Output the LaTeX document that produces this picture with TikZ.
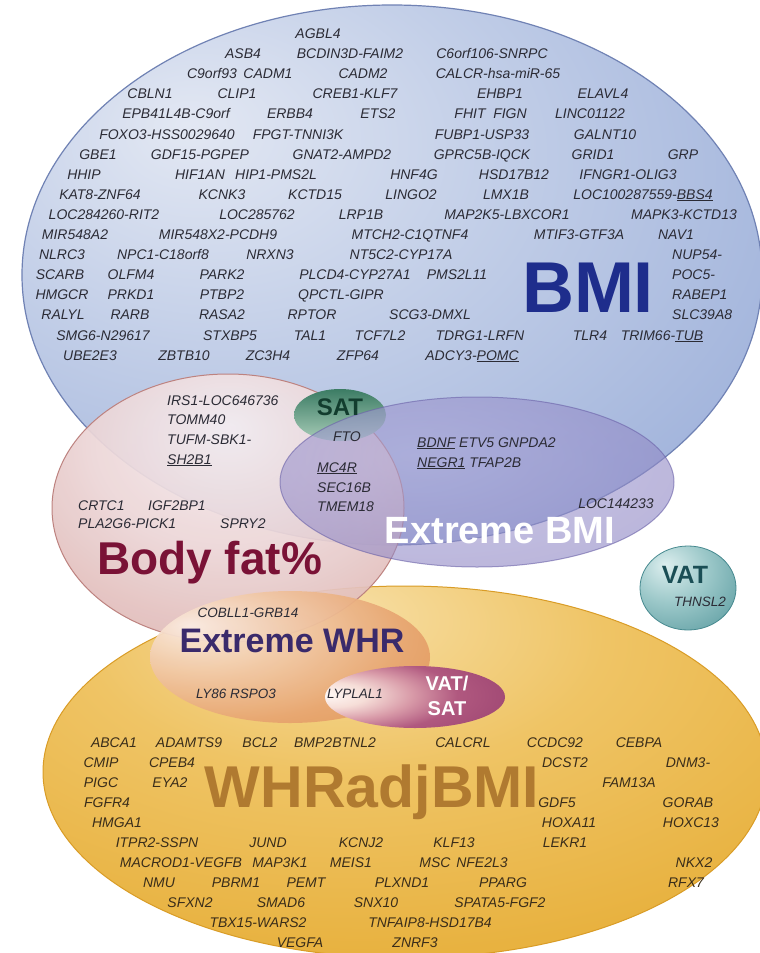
\documentclass[tikz,border=0pt]{standalone}
\usepackage{fontspec}
\setmainfont{Liberation Sans}

\definecolor{bmiA}{HTML}{E3E8F3}\definecolor{bmiB}{HTML}{C3CFE8}\definecolor{bmiC}{HTML}{A3B5DC}
\definecolor{bmiD}{HTML}{8EA3D2}\definecolor{bmiE}{HTML}{7890C6}\definecolor{bmirim}{HTML}{7082B4}
\definecolor{bfA}{HTML}{F5EEF1}\definecolor{bfB}{HTML}{ECD5D6}\definecolor{bfC}{HTML}{DDB3AF}
\definecolor{bfD}{HTML}{CE9A95}\definecolor{bfE}{HTML}{BD827F}
\definecolor{ebA}{HTML}{A8A2D6}\definecolor{ebB}{HTML}{9189C6}\definecolor{ebC}{HTML}{7C73B8}\definecolor{ebD}{HTML}{6A61A8}
\definecolor{goA}{HTML}{F7DFA6}\definecolor{goB}{HTML}{EFC465}\definecolor{goC}{HTML}{E8B240}
\definecolor{goD}{HTML}{E3A935}\definecolor{goE}{HTML}{D99C26}
\definecolor{whA}{HTML}{FBEDE4}\definecolor{whB}{HTML}{F1C9A8}\definecolor{whC}{HTML}{E8A672}
\definecolor{whD}{HTML}{DE8E4D}\definecolor{whE}{HTML}{D07C36}
\definecolor{vsA}{HTML}{FFFAF7}\definecolor{vsB}{HTML}{F6DED8}\definecolor{vsC}{HTML}{D89AA8}
\definecolor{vsD}{HTML}{B0587F}\definecolor{vsE}{HTML}{973F6D}
\definecolor{vaA}{HTML}{DCEEEE}\definecolor{vaB}{HTML}{9CC8C9}\definecolor{vaC}{HTML}{66A3A7}\definecolor{vaD}{HTML}{46898F}
\definecolor{satT}{HTML}{3C7C64}\definecolor{satB}{HTML}{A9CDB9}
\definecolor{bmilab}{HTML}{1E2D8C}\definecolor{bflab}{HTML}{7A1236}\definecolor{ewlab}{HTML}{3A2A6B}
\definecolor{whrlab}{HTML}{B07A30}\definecolor{satlab}{HTML}{123D2E}\definecolor{valab}{HTML}{1A4E55}
\definecolor{genec}{HTML}{2B2B35}\definecolor{genego}{HTML}{3A2D1A}

\pgfdeclareradialshading{bmish}{\pgfpoint{-14bp}{14bp}}{color(0bp)=(bmiA); color(18bp)=(bmiB); color(38bp)=(bmiC); color(55bp)=(bmiD); color(70bp)=(bmiE); color(100bp)=(bmiE)}
\pgfdeclareradialshading{bfsh}{\pgfpoint{0bp}{15bp}}{color(0bp)=(bfA); color(20bp)=(bfB); color(40bp)=(bfC); color(55bp)=(bfD); color(66bp)=(bfE); color(100bp)=(bfE)}
\pgfdeclareradialshading{ebsh}{\pgfpoint{-8bp}{8bp}}{color(0bp)=(ebA); color(30bp)=(ebB); color(50bp)=(ebC); color(62bp)=(ebD); color(100bp)=(ebD)}
\pgfdeclareradialshading{gosh}{\pgfpoint{-5bp}{22bp}}{color(0bp)=(goA); color(18bp)=(goB); color(38bp)=(goC); color(60bp)=(goD); color(72bp)=(goE); color(100bp)=(goE)}
\pgfdeclareradialshading{whsh}{\pgfpoint{-18bp}{12bp}}{color(0bp)=(whA); color(16bp)=(whB); color(32bp)=(whC); color(50bp)=(whD); color(65bp)=(whE); color(100bp)=(whE)}
\pgfdeclareradialshading{vssh}{\pgfpoint{-26bp}{2bp}}{color(0bp)=(vsA); color(10bp)=(vsB); color(20bp)=(vsC); color(30bp)=(vsD); color(50bp)=(vsE); color(100bp)=(vsE)}
\pgfdeclareradialshading{vash}{\pgfpoint{-12bp}{14bp}}{color(0bp)=(vaA); color(20bp)=(vaB); color(40bp)=(vaC); color(58bp)=(vaD); color(100bp)=(vaD)}

\newcommand{\gn}[4][gene]{\node[#1] (#2) at (#3) {#4};}

\begin{document}
\begin{tikzpicture}[x=1pt,y=-1pt,
  gene/.style={font=\itshape\fontsize{14}{16}\selectfont, text=genec, anchor=base, inner sep=0pt},
  genew/.style={gene, anchor=base west},
  geneg/.style={gene, text=genego},
  genes/.style={gene, font=\itshape\fontsize{13.5}{15}\selectfont},
  biglab/.style={font=\bfseries, inner sep=0pt, anchor=base}]
\fill[white] (0,0) rectangle (760,953);
\useasboundingbox (0,0) rectangle (760,953);
\clip (0,0) rectangle (760,953);

% ellipses
\shadedraw[shading=gosh, draw=goE, line width=1pt] (405,772) ellipse [x radius=362pt, y radius=186pt];
\shadedraw[shading=bmish, draw=bmirim, line width=1.2pt] (392,275) ellipse [x radius=370pt, y radius=270pt];
\shadedraw[shading=bfsh, draw=bfE, line width=1pt, fill opacity=0.92] (228,508) ellipse [x radius=176pt, y radius=134pt];
\shade[top color=satT, bottom color=satB] (340,415) ellipse [x radius=46pt, y radius=26pt];
\shadedraw[shading=ebsh, draw=ebD, fill opacity=0.6, draw opacity=0.6, line width=1pt] (477,482) ellipse [x radius=197pt, y radius=85pt];
\shade[shading=whsh, fill opacity=0.93] (290,657) ellipse [x radius=140pt, y radius=66pt];
\shade[shading=vssh] (415,697) ellipse [x radius=90pt, y radius=31pt];
\shadedraw[shading=vash, draw=vaD, line width=0.8pt] (688,588) ellipse [x radius=48pt, y radius=42pt];

% big labels
\node[biglab, text=bmilab, font=\bfseries\fontsize{72}{76}\selectfont] (bmilabel) at (588,312) {BMI};
\node[biglab, text=bflab, font=\bfseries\fontsize{46}{50}\selectfont, anchor=base west] (bflabel) at (97,574) {Body fat\%};
\node[biglab, text=white, font=\bfseries\fontsize{38}{40}\selectfont] (eblabel) at (500,543) {Extreme BMI};
\node[biglab, text=ewlab, font=\bfseries\fontsize{34}{36}\selectfont] (ewlabel) at (292,652) {Extreme WHR};
\node[biglab, text=whrlab, font=\bfseries\fontsize{59}{62}\selectfont] (whrlabel) at (372,807) {WHRadjBMI};
\node[biglab, text=satlab, font=\bfseries\fontsize{24}{26}\selectfont] (satlabel) at (340,415) {SAT};
\node[biglab, text=valab, font=\bfseries\fontsize{25}{27}\selectfont] (vatlabel) at (685,583) {VAT};
\node[biglab, text=white, font=\bfseries\fontsize{20}{22}\selectfont] (vs1) at (447,690) {VAT/};
\node[biglab, text=white, font=\bfseries\fontsize{20}{22}\selectfont] (vs2) at (447,715) {SAT};

% BMI genes
\gn{agbl4}{318,38}{AGBL4}
\gn{asb4}{243,58}{ASB4}
\gn{bcdin3d}{350,58}{BCDIN3D-FAIM2}
\gn{c6orf106}{492,58}{C6orf106-SNRPC}
\gn{c9orf93}{212,78}{C9orf93}
\gn{cadm1}{268,78}{CADM1}
\gn{cadm2}{363,78}{CADM2}
\gn{calcr}{498,78}{CALCR-hsa-miR-65}
\gn{cbln1}{150,98}{CBLN1}
\gn{clip1}{237,98}{CLIP1}
\gn{creb1}{355,98}{CREB1-KLF7}
\gn{ehbp1}{500,98}{EHBP1}
\gn{elavl4}{603,98}{ELAVL4}
\gn{epb41l4b}{176,118}{EPB41L4B-C9orf}
\gn{erbb4}{290,118}{ERBB4}
\gn{ets2}{378,118}{ETS2}
\gn{fhit}{470,118}{FHIT}
\gn{fign}{510,118}{FIGN}
\gn{linc01122}{590,118}{LINC01122}
\gn{foxo3}{167,139}{FOXO3-HSS0029640}
\gn{fpgt}{298,139}{FPGT-TNNI3K}
\gn{fubp1}{482,139}{FUBP1-USP33}
\gn{galnt10}{605,139}{GALNT10}
\gn{gbe1}{98,159}{GBE1}
\gn{gdf15}{200,159}{GDF15-PGPEP}
\gn{gnat2}{342,159}{GNAT2-AMPD2}
\gn{gprc5b}{482,159}{GPRC5B-IQCK}
\gn{grid1}{593,159}{GRID1}
\gn{grp}{683,159}{GRP}
\gn{hhip}{84,179}{HHIP}
\gn{hif1an}{200,179}{HIF1AN}
\gn{hip1}{276,179}{HIP1-PMS2L}
\gn{hnf4g}{414,179}{HNF4G}
\gn{hsd17b12}{514,179}{HSD17B12}
\gn{ifngr1}{628,179}{IFNGR1-OLIG3}
\gn{kat8}{100,199}{KAT8-ZNF64}
\gn{kcnk3}{222,199}{KCNK3}
\gn{kctd15}{315,199}{KCTD15}
\gn{lingo2}{411,199}{LINGO2}
\gn{lmx1b}{506,199}{LMX1B}
\gn{loc100287559}{643,199}{LOC100287559-\underline{BBS4}}
\gn{loc284260}{104,219}{LOC284260-RIT2}
\gn{loc285762}{257,219}{LOC285762}
\gn{lrp1b}{361,219}{LRP1B}
\gn{map2k5}{507,219}{MAP2K5-LBXCOR1}
\gn{mapk3}{684,219}{MAPK3-KCTD13}
\gn{mir548a2}{75,239}{MIR548A2}
\gn{mir548x2}{218,239}{MIR548X2-PCDH9}
\gn{mtch2}{410,239}{MTCH2-C1QTNF4}
\gn{mtif3}{579,239}{MTIF3-GTF3A}
\gn{nav1}{676,239}{NAV1}
\gn{nlrc3}{62,259}{NLRC3}
\gn{npc1}{163,259}{NPC1-C18orf8}
\gn{nrxn3}{270,259}{NRXN3}
\gn{nt5c2}{401,259}{NT5C2-CYP17A}
\gn[genew]{nup54}{672,259}{NUP54-}
\gn{scarb}{60,279}{SCARB}
\gn{olfm4}{131,279}{OLFM4}
\gn{park2}{222,279}{PARK2}
\gn{plcd4}{355,279}{PLCD4-CYP27A1}
\gn{pms2l11}{457,279}{PMS2L11}
\gn[genew]{poc5}{672,279}{POC5-}
\gn{hmgcr}{62,299}{HMGCR}
\gn{prkd1}{131,299}{PRKD1}
\gn{ptbp2}{222,299}{PTBP2}
\gn{qpctl}{341,299}{QPCTL-GIPR}
\gn[genew]{rabep1}{672,299}{RABEP1}
\gn{ralyl}{63,319}{RALYL}
\gn{rarb}{130,319}{RARB}
\gn{rasa2}{222,319}{RASA2}
\gn{rptor}{312,319}{RPTOR}
\gn{scg3}{430,319}{SCG3-DMXL}
\gn[genew]{slc39a8}{672,319}{SLC39A8}
\gn{smg6}{103,340}{SMG6-N29617}
\gn{stxbp5}{230,340}{STXBP5}
\gn{tal1}{310,340}{TAL1}
\gn{tcf7l2}{380,340}{TCF7L2}
\gn{tdrg1}{480,340}{TDRG1-LRFN}
\gn{tlr4}{590,340}{TLR4}
\gn{trim66}{662,340}{TRIM66-\underline{TUB}}
\gn{ube2e3}{90,360}{UBE2E3}
\gn{zbtb10}{184,360}{ZBTB10}
\gn{zc3h4}{268,360}{ZC3H4}
\gn{zfp64}{358,360}{ZFP64}
\gn{adcy3}{472,360}{ADCY3-\underline{POMC}}

% middle genes
\gn[genew]{irs1}{167,405}{IRS1-LOC646736}
\gn[genew]{tomm40}{167,424}{TOMM40}
\gn[genew]{tufm}{167,444}{TUFM-SBK1-}
\gn[genew]{sh2b1}{167,464}{\underline{SH2B1}}
\gn{fto}{347,441}{FTO}
\gn[genew]{mc4r}{317,472}{\underline{MC4R}}
\gn[genew]{sec16b}{317,492}{SEC16B}
\gn[genew]{tmem18}{317,511}{TMEM18}
\gn[genew]{bdnf}{417,447}{\underline{BDNF} ETV5 GNPDA2}
\gn[genew]{negr1}{417,467}{\underline{NEGR1} TFAP2B}
\gn{loc144233}{616,508}{LOC144233}
\gn[genew]{crtc1}{78,510}{CRTC1}
\gn[genew]{igf2bp1}{148,510}{IGF2BP1}
\gn[genew]{pla2g6}{78,528}{PLA2G6-PICK1}
\gn[genew]{spry2}{220,528}{SPRY2}
\gn[genes]{cobll1}{248,617}{COBLL1-GRB14}
\gn[genes]{ly86}{236,698}{LY86 RSPO3}
\gn[genes]{lyplal1}{355,698}{LYPLAL1}
\gn[genes]{thnsl2}{700,606}{THNSL2}

% WHRadjBMI genes
\gn[geneg]{abca1}{114,747}{ABCA1}
\gn[geneg]{adamts9}{189,747}{ADAMTS9}
\gn[geneg]{bcl2}{260,747}{BCL2}
\gn[geneg]{bmp2}{335,747}{BMP2BTNL2}
\gn[geneg]{calcrl}{463,747}{CALCRL}
\gn[geneg]{ccdc92}{555,747}{CCDC92}
\gn[geneg]{cebpa}{639,747}{CEBPA}
\gn[geneg]{cmip}{101,767}{CMIP}
\gn[geneg]{cpeb4}{172,767}{CPEB4}
\gn[geneg]{dcst2}{565,767}{DCST2}
\gn[geneg]{dnm3}{688,767}{DNM3-}
\gn[geneg]{pigc}{101,787}{PIGC}
\gn[geneg]{eya2}{170,787}{EYA2}
\gn[geneg]{fam13a}{629,787}{FAM13A}
\gn[geneg]{fgfr4}{107,807}{FGFR4}
\gn[geneg]{gdf5}{557,807}{GDF5}
\gn[geneg]{gorab}{688,807}{GORAB}
\gn[geneg]{hmga1}{117,827}{HMGA1}
\gn[geneg]{hoxa11}{569,827}{HOXA11}
\gn[geneg]{hoxc13}{691,827}{HOXC13}
\gn[geneg]{itpr2}{157,847}{ITPR2-SSPN}
\gn[geneg]{jund}{268,847}{JUND}
\gn[geneg]{kcnj2}{361,847}{KCNJ2}
\gn[geneg]{klf13}{454,847}{KLF13}
\gn[geneg]{lekr1}{565,847}{LEKR1}
\gn[geneg]{macrod1}{181,867}{MACROD1-VEGFB}
\gn[geneg]{map3k1}{280,867}{MAP3K1}
\gn[geneg]{meis1}{351,867}{MEIS1}
\gn[geneg]{msc}{435,867}{MSC}
\gn[geneg]{nfe2l3}{482,867}{NFE2L3}
\gn[geneg]{nkx2}{694,867}{NKX2}
\gn[geneg]{nmu}{159,887}{NMU}
\gn[geneg]{pbrm1}{236,887}{PBRM1}
\gn[geneg]{pemt}{306,887}{PEMT}
\gn[geneg]{plxnd1}{402,887}{PLXND1}
\gn[geneg]{pparg}{503,887}{PPARG}
\gn[geneg]{rfx7}{686,887}{RFX7}
\gn[geneg]{sfxn2}{190,907}{SFXN2}
\gn[geneg]{smad6}{281,907}{SMAD6}
\gn[geneg]{snx10}{376,907}{SNX10}
\gn[geneg]{spata5}{500,907}{SPATA5-FGF2}
\gn[geneg]{tbx15}{258,927}{TBX15-WARS2}
\gn[geneg]{tnfaip8}{430,927}{TNFAIP8-HSD17B4}
\gn[geneg]{vegfa}{300,947}{VEGFA}
\gn[geneg]{znrf3}{415,947}{ZNRF3}
\end{tikzpicture}
\end{document}
